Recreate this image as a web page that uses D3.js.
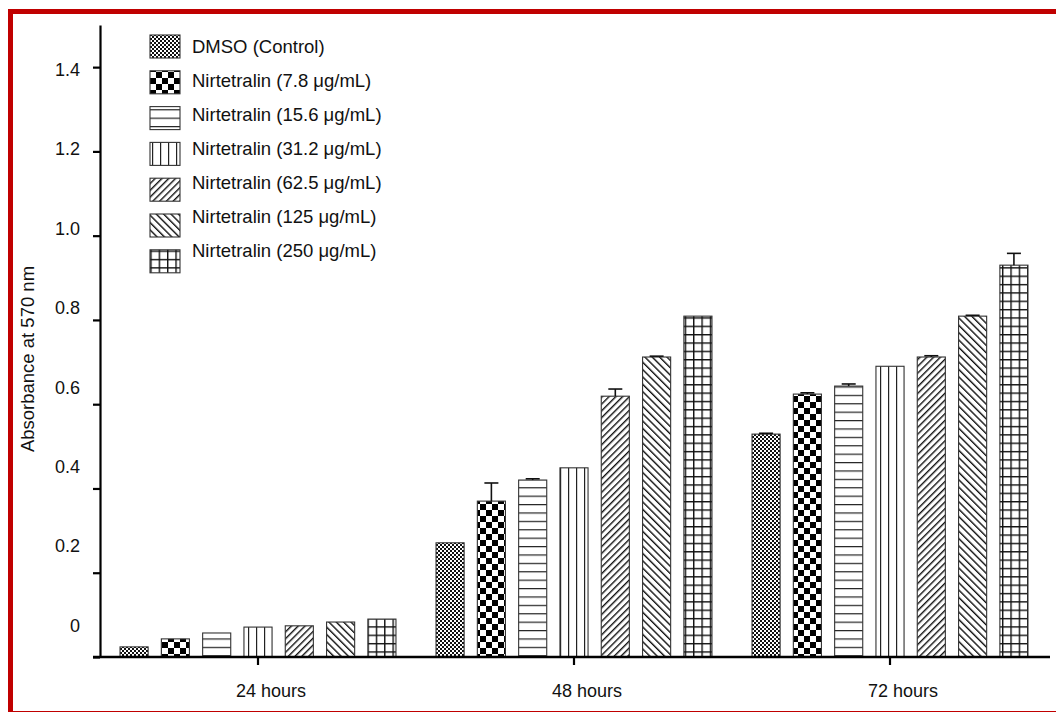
<!DOCTYPE html>
<html>
<head>
<meta charset="utf-8">
<script src="https://cdn.jsdelivr.net/npm/d3@7"></script>
<style>
  body { margin: 0; background: #fff; }
  svg { display: block; font-family: Arial, "Liberation Sans", sans-serif; }
</style>
</head>
<body>
<svg id="chart" width="1056" height="712"></svg>
<script>
// data
const groups = ["24 hours", "48 hours", "72 hours"];
const seriesNames = [
  "DMSO (Control)",
  "Nirtetralin (7.8 μg/mL)",
  "Nirtetralin (15.6 μg/mL)",
  "Nirtetralin (31.2 μg/mL)",
  "Nirtetralin (62.5 μg/mL)",
  "Nirtetralin (125 μg/mL)",
  "Nirtetralin (250 μg/mL)"
];
const dmso   = [0.024, 0.271, 0.529];
const c7_8   = [0.043, 0.370, 0.624];
const c15_6  = [0.057, 0.420, 0.643];
const c31_2  = [0.071, 0.449, 0.690];
const c62_5  = [0.074, 0.619, 0.712];
const c125   = [0.083, 0.712, 0.809];
const c250   = [0.090, 0.809, 0.930];
const seriesValues = [dmso, c7_8, c15_6, c31_2, c62_5, c125, c250];

const errDmso  = [0, 0, 0.002];
const err7_8   = [0, 0.043, 0.003];
const err15_6  = [0, 0.003, 0.005];
const err31_2  = [0, 0, 0];
const err62_5  = [0, 0.017, 0.003];
const err125   = [0, 0.002, 0.002];
const err250   = [0, 0, 0.028];
const seriesErrors = [errDmso, err7_8, err15_6, err31_2, err62_5, err125, err250];

const yTicks = [0, 0.2, 0.4, 0.6, 0.8, 1.0, 1.2, 1.4];

const svg = d3.select("#chart");

// red frame
svg.append("rect")
  .attr("x", 10.5).attr("y", 11.5)
  .attr("width", 1070).attr("height", 702)
  .attr("fill", "none")
  .attr("stroke", "#c00000")
  .attr("stroke-width", 5);

// patterns
const defs = svg.append("defs");
const ink = "#111";

function pat(id, w, h) {
  return defs.append("pattern")
    .attr("id", id)
    .attr("patternUnits", "userSpaceOnUse")
    .attr("width", w).attr("height", h);
}

// fine checker
let p = pat("p0", 4, 4);
p.append("rect").attr("width", 4).attr("height", 4).attr("fill", "#fff");
p.append("rect").attr("width", 2).attr("height", 2).attr("fill", ink);
p.append("rect").attr("x", 2).attr("y", 2).attr("width", 2).attr("height", 2).attr("fill", ink);

// coarse checker
p = pat("p1", 12, 12);
p.append("rect").attr("width", 12).attr("height", 12).attr("fill", "#fff");
p.append("rect").attr("width", 6).attr("height", 6).attr("fill", "#000");
p.append("rect").attr("x", 6).attr("y", 6).attr("width", 6).attr("height", 6).attr("fill", "#000");

// horizontal lines
p = pat("p2", 8.4, 8.4);
p.append("rect").attr("width", 8.4).attr("height", 8.4).attr("fill", "#fff");
p.append("line").attr("x1", 0).attr("x2", 8.4).attr("y1", 0.6).attr("y2", 0.6)
  .attr("stroke", "#222").attr("stroke-width", 1.2);

// vertical lines
p = pat("p3", 8, 8);
p.append("rect").attr("width", 8).attr("height", 8).attr("fill", "#fff");
p.append("line").attr("y1", 0).attr("y2", 8).attr("x1", 0.6).attr("x2", 0.6)
  .attr("stroke", "#222").attr("stroke-width", 1.2);

// forward diagonal
p = pat("p4", 4.8, 4.8).attr("patternTransform", "rotate(45)");
p.append("rect").attr("width", 4.8).attr("height", 4.8).attr("fill", "#fff");
p.append("line").attr("y1", 0).attr("y2", 4.8).attr("x1", 0.7).attr("x2", 0.7)
  .attr("stroke", "#111").attr("stroke-width", 1.4);

// back diagonal
p = pat("p5", 5.2, 5.2).attr("patternTransform", "rotate(-45)");
p.append("rect").attr("width", 5.2).attr("height", 5.2).attr("fill", "#fff");
p.append("line").attr("y1", 0).attr("y2", 5.2).attr("x1", 0.7).attr("x2", 0.7)
  .attr("stroke", "#111").attr("stroke-width", 1.4);

// grid
p = pat("p6", 8.35, 8.35);
p.append("rect").attr("width", 8.35).attr("height", 8.35).attr("fill", "#fff");
p.append("line").attr("x1", 0).attr("x2", 8.35).attr("y1", 0.7).attr("y2", 0.7)
  .attr("stroke", "#111").attr("stroke-width", 1.4);
p.append("line").attr("y1", 0).attr("y2", 8.35).attr("x1", 0.7).attr("x2", 0.7)
  .attr("stroke", "#111").attr("stroke-width", 1.4);

const fills = seriesNames.map((d, i) => `url(#p${i})`);

// scales
const y = d3.scaleLinear().domain([0, 1.5]).range([657, 25]);
// the printed tick labels sit slightly off their tick marks in the original
const yLabel = d3.scaleLinear().domain([0, 1.4]).range([625, 69]);

const x0 = d3.scaleBand().domain(groups).range([100, 1048]).padding(0);
const x1 = d3.scaleBand().domain(d3.range(seriesNames.length))
  .range([0, x0.bandwidth()])
  .paddingInner(0.32).paddingOuter(0.485);

const rows = [];
groups.forEach((g, gi) => {
  seriesNames.forEach((s, si) => {
    rows.push({ group: g, si: si, value: seriesValues[si][gi], err: seriesErrors[si][gi] });
  });
});

// bars
const barG = svg.append("g");
barG.selectAll("rect.bar")
  .data(rows)
  .join("rect")
  .attr("class", "bar")
  .attr("x", d => x0(d.group) + x1(d.si))
  .attr("width", x1.bandwidth())
  .attr("y", d => y(d.value))
  .attr("height", d => y(0) - y(d.value))
  .attr("fill", d => fills[d.si])
  .attr("stroke", "#333")
  .attr("stroke-width", 1.1);

// error bars (upper only)
const errRows = rows.filter(d => d.err > 0);
const errG = svg.append("g").attr("stroke", "#111").attr("stroke-width", 1.6);
errRows.forEach(d => {
  const cx = x0(d.group) + x1(d.si) + x1.bandwidth() / 2;
  errG.append("line")
    .attr("x1", cx).attr("x2", cx)
    .attr("y1", y(d.value)).attr("y2", y(d.value + d.err));
  errG.append("line")
    .attr("x1", cx - 7).attr("x2", cx + 7)
    .attr("y1", y(d.value + d.err)).attr("y2", y(d.value + d.err));
});

// y axis
const yAxisG = svg.append("g")
  .attr("transform", "translate(100,0)")
  .call(d3.axisLeft(y).tickValues(yTicks).tickSize(7).tickSizeOuter(0)
    .tickFormat(d => d === 0 ? "0" : d3.format(".1f")(d)));
yAxisG.select(".domain").attr("stroke", "#000").attr("stroke-width", 2.2);
yAxisG.selectAll(".tick line").attr("stroke", "#000").attr("stroke-width", 2.2);
yAxisG.selectAll(".tick text")
  .attr("x", -20)
  .attr("dy", "0.35em")
  .attr("transform", d => `translate(0,${yLabel(d) - y(d)})`)
  .style("font-size", "18px")
  .style("font-family", "Arial, 'Liberation Sans', sans-serif")
  .attr("fill", "#111");

// x axis
const xAxisG = svg.append("g")
  .attr("transform", `translate(0,${y(0)})`)
  .call(d3.axisBottom(x0).tickSize(8).tickSizeOuter(0));
xAxisG.select(".domain").attr("d", "M93,0H1050")
  .attr("stroke", "#000").attr("stroke-width", 2.4);
xAxisG.selectAll(".tick line").attr("stroke", "#000").attr("stroke-width", 2.2);
xAxisG.selectAll(".tick text")
  .attr("x", 13)
  .attr("y", 34)
  .attr("dy", "0.35em")
  .style("font-size", "18px")
  .style("font-family", "Arial, 'Liberation Sans', sans-serif")
  .attr("fill", "#111");

// y title
svg.append("text")
  .attr("transform", "translate(34,359) rotate(-90)")
  .attr("text-anchor", "middle")
  .style("font-size", "18.5px")
  .attr("fill", "#111")
  .text("Absorbance at 570 nm");

// legend
const leg = svg.append("g");
const legItems = leg.selectAll("g")
  .data(seriesNames)
  .join("g");
legItems.append("rect")
  .attr("x", 150)
  .attr("y", (d, i) => 35 + i * 35.8)
  .attr("width", 30).attr("height", 23)
  .attr("fill", (d, i) => fills[i])
  .attr("stroke", "#333").attr("stroke-width", 1.1);
legItems.append("text")
  .attr("x", 192)
  .attr("y", (d, i) => 47 + i * 34)
  .attr("dy", "0.35em")
  .style("font-size", "18.5px")
  .attr("fill", "#111")
  .text(d => d);
</script>
</body>
</html>
